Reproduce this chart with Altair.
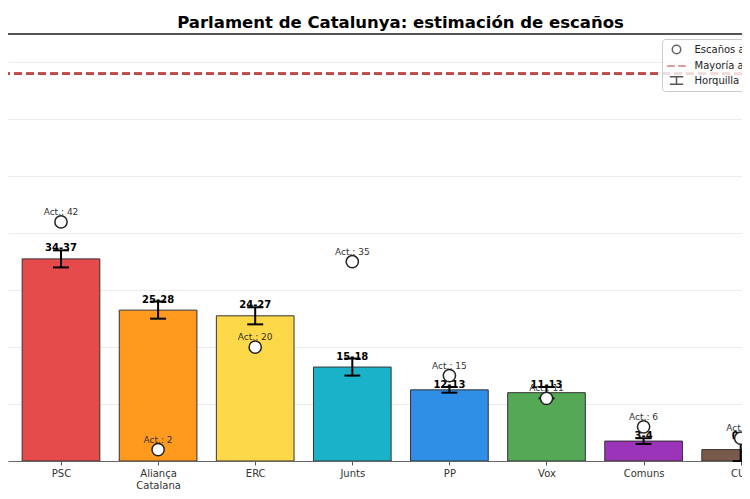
import json
import pandas as pd
import altair as alt

# Escaños: horquilla (mín-máx) y escaños actuales
parties = ['PSC', 'Aliança Catalana', 'ERC', 'Junts', 'PP', 'Vox', 'Comuns', 'CUP']
tick_labels = ['PSC', 'Aliança|Catalana', 'ERC', 'Junts', 'PP', 'Vox', 'Comuns', 'CUP']
seats_low = [34, 25, 24, 15, 12, 11, 3, 0]
seats_high = [37, 28, 27, 18, 13, 13, 4, 4]
seats_now = [42, 2, 20, 35, 15, 11, 6, 4]
bar_colors = ['#e54b4b', '#ff9a1f', '#fdd94a', '#1ab2c8', '#2f8ee5', '#55a855', '#9b34b8', '#7a5a4a']

majority = 68
legend_labels = ['Escaños actuales', 'Mayoría absoluta (68)', 'Horquilla GESOP']
legend_colors = ['#222222', '#c04848', '#111111']
legend_shapes = [
    'M0.65,0A0.65,0.65,0,1,1,-0.65,0A0.65,0.65,0,1,1,0.65,0Z',
    'M-1.44,0H-0.25M0.25,0H1.44',
    'M-1.03,-0.59H1.03M0,-0.59V0.59M-1.03,0.59H1.03',
]

FONT = 'DejaVu Sans'

df = pd.DataFrame({
    'party': parties,
    'pos': list(range(len(parties))),
    'low': seats_low,
    'high': seats_high,
    'actual': seats_now,
})

# the picture is a crop of a wider figure, so the x scale runs past the first/last bar
x_scale = alt.Scale(domain=[-0.5458, 7.0134], nice=False, zero=False)
y_scale = alt.Scale(domain=[0, 75], nice=False)

label_expr = 'split(' + json.dumps(tick_labels, ensure_ascii=False) + '[round(datum.value)], "|")'

base = alt.Chart(df).transform_calculate(
    mid='(datum.low + datum.high) / 2',
    x0='datum.pos - 0.4',
    x1='datum.pos + 0.4',
    c0='datum.pos - 0.082',
    c1='datum.pos + 0.082',
    rango="datum.low + '-' + datum.high",
    act="'Act.: ' + datum.actual",
)

bars = base.mark_bar(stroke='#333333', strokeWidth=1, clip=True).encode(
    x=alt.X('x0:Q', scale=x_scale,
            axis=alt.Axis(values=list(range(len(parties))), labelExpr=label_expr,
                          grid=False, title=None, domainColor='#666666', domainWidth=1.2,
                          tickColor='#555555', tickSize=4, labelFont=FONT, labelFontSize=10,
                          labelColor='#333333', labelPadding=3, labelLineHeight=12,
                          labelFlush=False, labelOverlap=False)),
    x2='x1:Q',
    y=alt.Y('mid:Q', scale=y_scale,
            axis=alt.Axis(values=list(range(0, 80, 10)), labels=False, ticks=False,
                          domain=False, grid=True, gridColor='#ececec', title=None)),
    y2=alt.datum(0),
    color=alt.Color('party:N', scale=alt.Scale(domain=parties, range=bar_colors), legend=None),
)

top_spine = alt.Chart(df).mark_rule(color='#555555', strokeWidth=1.5).encode(
    y=alt.datum(75)
)

majority_line = alt.Chart(df).mark_rule(color='#c04848', strokeWidth=2, strokeDash=[8, 4]).encode(
    y=alt.datum(majority)
)

act_text = base.mark_text(font=FONT, fontSize=9, color='#333333', baseline='alphabetic', dy=-7,
                          clip=True).encode(
    x='pos:Q', y='actual:Q', text='act:N'
)

err_line = base.mark_rule(color='black', strokeWidth=2).encode(
    x='pos:Q', y='low:Q', y2='high:Q'
)

err_caps = base.transform_fold(['low', 'high'], as_=['lim', 'val']).mark_rule(
    color='black', strokeWidth=2
).encode(
    x='c0:Q', x2='c1:Q', y='val:Q'
)

range_text = base.mark_text(font=FONT, fontSize=10, fontWeight='bold', color='black',
                            baseline='alphabetic', dy=1, clip=True).encode(
    x='pos:Q', y='high:Q', text='rango:N'
)

now_points = base.mark_point(shape='circle', filled=True, fill='white', stroke='#222222',
                             strokeWidth=1.5, size=150, opacity=1).encode(
    x='pos:Q', y='actual:Q'
)

legend_layer = alt.Chart(pd.DataFrame({'key': legend_labels})).transform_filter(
    'false'
).mark_point(fill='white', strokeWidth=1.5).encode(
    shape=alt.Shape('key:N', scale=alt.Scale(domain=legend_labels, range=legend_shapes),
                    legend=alt.Legend(title=None)),
    stroke=alt.Stroke('key:N', scale=alt.Scale(domain=legend_labels, range=legend_colors),
                      legend=alt.Legend(title=None)),
)

chart = alt.layer(
    bars, top_spine, majority_line, act_text, err_line, err_caps, range_text, now_points,
    legend_layer
).properties(
    width=734,
    height=427,
    autosize=alt.AutoSizeParams(type='none'),
    padding={'top': 26, 'left': 0, 'right': 0, 'bottom': 30},
    title=alt.TitleParams(
        'Parlament de Catalunya: estimación de escaños',
        font=FONT, fontSize=16.5, fontWeight='bold', color='black',
        anchor='middle', dx=25.5, offset=2
    ),
).configure_view(
    stroke=None
).configure_legend(
    orient='none', legendX=654, legendY=5, padding=3,
    strokeColor='#cccccc', fillColor='rgba(255,255,255,0.8)', cornerRadius=3,
    symbolSize=169, symbolStrokeWidth=1.5, symbolFillColor='white', symbolOffset=4,
    rowPadding=1.5, labelFont=FONT, labelFontSize=10, labelColor='#222222', labelOffset=10.5,
)

chart.save('out.html', embed_options={'renderer': 'svg', 'actions': False})
